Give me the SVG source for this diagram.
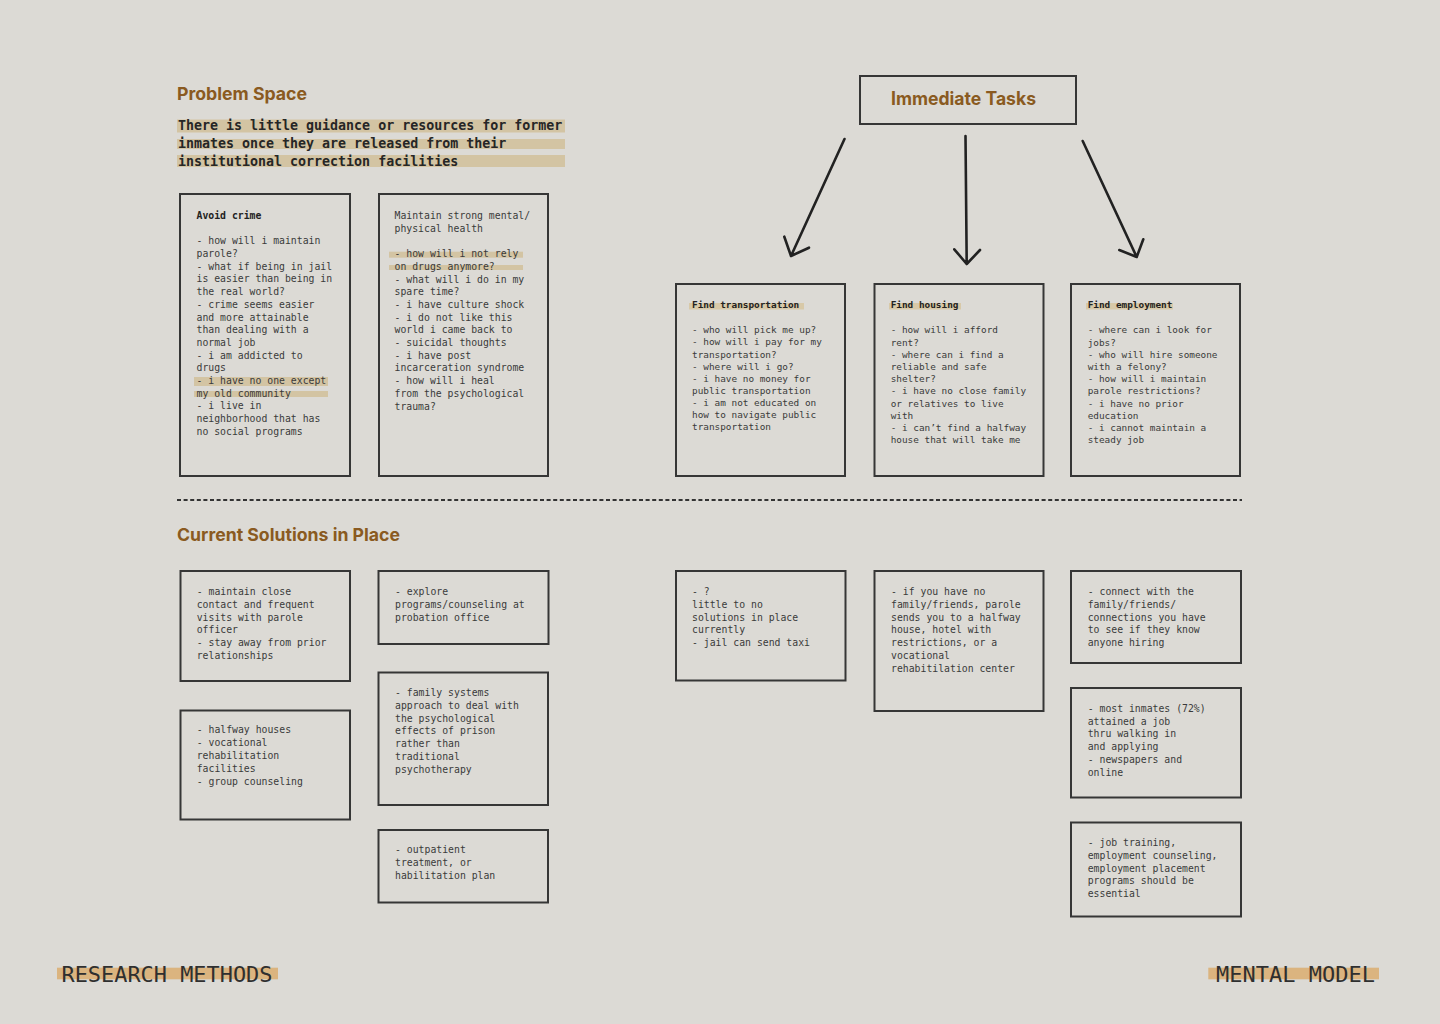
<svg xmlns="http://www.w3.org/2000/svg" width="1440" height="1024" viewBox="0 0 1440 1024">
<defs>
<style>
.bg{fill:#dcdad5}
.box{fill:none;stroke:#363636;stroke-width:2}
.hl{fill:#d3c4a3}
.hl2{fill:#d8c9a8}
.ft{fill:#dbb47f}
.h{font-family:Inter,"Noto Sans",sans-serif;font-weight:700;fill:#8a5a21}
.st{font-family:"DejaVu Sans Mono",monospace;font-weight:700;font-size:13.3px;fill:#262626}
.t{font-family:"DejaVu Sans Mono",monospace;font-size:9.8px;fill:#3a3a3a}
.ts{font-family:"DejaVu Sans Mono",monospace;font-size:9.4px;fill:#3a3a3a}
.b{font-weight:700;fill:#222}
.foot{font-family:"DejaVu Sans Mono",monospace;font-size:21px;fill:#2f2f2f}
.arrow{fill:none;stroke:#222;stroke-width:2.6;stroke-linecap:round;stroke-linejoin:round}
.dash{stroke:#333;stroke-width:2;stroke-dasharray:4 2.6}
</style>
</defs>
<rect class="bg" x="0" y="0" width="1440" height="1024"/>

<g id="problem-space">
<text class="h" x="177" y="100" font-size="17.5" textLength="130" lengthAdjust="spacingAndGlyphs">Problem Space</text>
<rect class="hl" x="177" y="119.5" width="388" height="13"/>
<rect class="hl" x="177" y="139" width="388" height="10"/>
<rect class="hl" x="177" y="155" width="388" height="12"/>
<text class="st" x="178" y="130">There is little guidance or resources for former</text>
<text class="st" x="178" y="148.3">inmates once they are released from their</text>
<text class="st" x="178" y="165.7">institutional correction facilities</text>
</g>

<g id="avoid-crime">
<rect class="box" x="180" y="194" width="170" height="282"/>
<rect class="hl" x="194" y="377" width="134" height="9"/>
<rect class="hl" x="194" y="391" width="134" height="6"/>
<text class="t">
<tspan class="b" x="196.5" y="219">Avoid crime</tspan>
<tspan x="196.5" y="244.3">- how will i maintain</tspan>
<tspan x="196.5" y="257">parole?</tspan>
<tspan x="196.5" y="269.7">- what if being in jail</tspan>
<tspan x="196.5" y="282.4">is easier than being in</tspan>
<tspan x="196.5" y="295.1">the real world?</tspan>
<tspan x="196.5" y="307.8">- crime seems easier</tspan>
<tspan x="196.5" y="320.5">and more attainable</tspan>
<tspan x="196.5" y="333.2">than dealing with a</tspan>
<tspan x="196.5" y="345.9">normal job</tspan>
<tspan x="196.5" y="358.6">- i am addicted to</tspan>
<tspan x="196.5" y="371.3">drugs</tspan>
<tspan x="196.5" y="384">- i have no one except</tspan>
<tspan x="196.5" y="396.7">my old community</tspan>
<tspan x="196.5" y="409.4">- i live in</tspan>
<tspan x="196.5" y="422.1">neighborhood that has</tspan>
<tspan x="196.5" y="434.8">no social programs</tspan>
</text>
</g>

<g id="mental-health">
<rect class="box" x="379" y="194" width="169" height="282"/>
<rect class="hl" x="389" y="251.7" width="134" height="6"/>
<rect class="hl" x="389" y="265" width="134" height="5"/>
<text class="t">
<tspan x="394.5" y="219">Maintain strong mental/</tspan>
<tspan x="394.5" y="231.7">physical health</tspan>
<tspan x="394.5" y="257.1">- how will i not rely</tspan>
<tspan x="394.5" y="269.8">on drugs anymore?</tspan>
<tspan x="394.5" y="282.5">- what will i do in my</tspan>
<tspan x="394.5" y="295.2">spare time?</tspan>
<tspan x="394.5" y="307.9">- i have culture shock</tspan>
<tspan x="394.5" y="320.6">- i do not like this</tspan>
<tspan x="394.5" y="333.3">world i came back to</tspan>
<tspan x="394.5" y="346">- suicidal thoughts</tspan>
<tspan x="394.5" y="358.7">- i have post</tspan>
<tspan x="394.5" y="371.4">incarceration syndrome</tspan>
<tspan x="394.5" y="384.1">- how will i heal</tspan>
<tspan x="394.5" y="396.8">from the psychological</tspan>
<tspan x="394.5" y="409.5">trauma?</tspan>
</text>
</g>

<g id="immediate-tasks">
<rect class="box" x="860" y="76" width="216" height="48"/>
<text class="h" x="891" y="105" font-size="18.5" textLength="145" lengthAdjust="spacingAndGlyphs">Immediate Tasks</text>
</g>

<g id="find-transportation">
<rect class="box" x="676" y="284" width="169" height="192"/>
<rect class="hl2" x="689" y="303" width="115" height="6.5"/>
<text class="ts">
<tspan class="b" x="692" y="308.3">Find transportation</tspan>
<tspan x="692" y="333.3">- who will pick me up?</tspan>
<tspan x="692" y="345.4">- how will i pay for my</tspan>
<tspan x="692" y="357.5">transportation?</tspan>
<tspan x="692" y="369.6">- where will i go?</tspan>
<tspan x="692" y="381.7">- i have no money for</tspan>
<tspan x="692" y="393.8">public transportation</tspan>
<tspan x="692" y="405.9">- i am not educated on</tspan>
<tspan x="692" y="418">how to navigate public</tspan>
<tspan x="692" y="430.1">transportation</tspan>
</text>
</g>

<g id="find-housing">
<rect class="box" x="874.5" y="284" width="169" height="192"/>
<rect class="hl2" x="889" y="303" width="72" height="6.5"/>
<text class="ts">
<tspan class="b" x="890.7" y="308.3">Find housing</tspan>
<tspan x="890.7" y="333.3">- how will i afford</tspan>
<tspan x="890.7" y="345.5">rent?</tspan>
<tspan x="890.7" y="357.7">- where can i find a</tspan>
<tspan x="890.7" y="369.9">reliable and safe</tspan>
<tspan x="890.7" y="382.1">shelter?</tspan>
<tspan x="890.7" y="394.3">- i have no close family</tspan>
<tspan x="890.7" y="406.5">or relatives to live</tspan>
<tspan x="890.7" y="418.7">with</tspan>
<tspan x="890.7" y="430.9">- i can’t find a halfway</tspan>
<tspan x="890.7" y="443.1">house that will take me</tspan>
</text>
</g>

<g id="find-employment">
<rect class="box" x="1071" y="284" width="169" height="192"/>
<rect class="hl2" x="1086" y="303" width="87" height="6.5"/>
<text class="ts">
<tspan class="b" x="1087.7" y="308.3">Find employment</tspan>
<tspan x="1087.7" y="333.3">- where can i look for</tspan>
<tspan x="1087.7" y="345.5">jobs?</tspan>
<tspan x="1087.7" y="357.7">- who will hire someone</tspan>
<tspan x="1087.7" y="369.9">with a felony?</tspan>
<tspan x="1087.7" y="382.1">- how will i maintain</tspan>
<tspan x="1087.7" y="394.3">parole restrictions?</tspan>
<tspan x="1087.7" y="406.5">- i have no prior</tspan>
<tspan x="1087.7" y="418.7">education</tspan>
<tspan x="1087.7" y="430.9">- i cannot maintain a</tspan>
<tspan x="1087.7" y="443.1">steady job</tspan>
</text>
</g>

<g id="connectors">
<path class="arrow" d="M844.5,139 L791,256 M784.3,236.7 L791,256 L809,247.7"/>
<path class="arrow" d="M965.5,136 L966.7,264 M954.3,249.3 L966.7,264 L980,250"/>
<path class="arrow" d="M1082.7,141 L1136.7,257 M1119.3,250 L1136.7,257 L1143.3,239.3"/>
</g>

<line class="dash" x1="177" y1="500" x2="1242" y2="500"/>

<g id="current-solutions">
<text class="h" x="177" y="541" font-size="17.5" textLength="223" lengthAdjust="spacingAndGlyphs">Current Solutions in Place</text>
</g>

<g id="sol-parole">
<rect class="box" x="180.5" y="571" width="169.5" height="110"/>
<text class="t">
<tspan x="196.7" y="595">- maintain close</tspan>
<tspan x="196.7" y="607.8">contact and frequent</tspan>
<tspan x="196.7" y="620.6">visits with parole</tspan>
<tspan x="196.7" y="633.4">officer</tspan>
<tspan x="196.7" y="646.2">- stay away from prior</tspan>
<tspan x="196.7" y="659">relationships</tspan>
</text>
</g>

<g id="sol-halfway">
<rect class="box" x="180.5" y="710.5" width="169.5" height="109"/>
<text class="t">
<tspan x="196.7" y="733.3">- halfway houses</tspan>
<tspan x="196.7" y="746.1">- vocational</tspan>
<tspan x="196.7" y="758.9">rehabilitation</tspan>
<tspan x="196.7" y="771.7">facilities</tspan>
<tspan x="196.7" y="784.5">- group counseling</tspan>
</text>
</g>

<g id="sol-probation">
<rect class="box" x="378.5" y="571" width="170" height="73"/>
<text class="t">
<tspan x="395" y="595">- explore</tspan>
<tspan x="395" y="607.8">programs/counseling at</tspan>
<tspan x="395" y="620.6">probation office</tspan>
</text>
</g>

<g id="sol-family-systems">
<rect class="box" x="378.5" y="672.5" width="169.5" height="132.5"/>
<text class="t">
<tspan x="395" y="696">- family systems</tspan>
<tspan x="395" y="708.8">approach to deal with</tspan>
<tspan x="395" y="721.6">the psychological</tspan>
<tspan x="395" y="734.4">effects of prison</tspan>
<tspan x="395" y="747.2">rather than</tspan>
<tspan x="395" y="760">traditional</tspan>
<tspan x="395" y="772.8">psychotherapy</tspan>
</text>
</g>

<g id="sol-outpatient">
<rect class="box" x="378.5" y="830" width="169.5" height="72.5"/>
<text class="t">
<tspan x="395" y="853.3">- outpatient</tspan>
<tspan x="395" y="866.1">treatment, or</tspan>
<tspan x="395" y="878.9">habilitation plan</tspan>
</text>
</g>

<g id="sol-transport">
<rect class="box" x="676" y="571" width="169.5" height="109.5"/>
<text class="t">
<tspan x="692" y="595">- ?</tspan>
<tspan x="692" y="607.8">little to no</tspan>
<tspan x="692" y="620.6">solutions in place</tspan>
<tspan x="692" y="633.4">currently</tspan>
<tspan x="692" y="646.2">- jail can send taxi</tspan>
</text>
</g>

<g id="sol-housing">
<rect class="box" x="874.5" y="571" width="169" height="140"/>
<text class="t">
<tspan x="891" y="595">- if you have no</tspan>
<tspan x="891" y="607.8">family/friends, parole</tspan>
<tspan x="891" y="620.6">sends you to a halfway</tspan>
<tspan x="891" y="633.4">house, hotel with</tspan>
<tspan x="891" y="646.2">restrictions, or a</tspan>
<tspan x="891" y="659">vocational</tspan>
<tspan x="891" y="671.8">rehabitilation center</tspan>
</text>
</g>

<g id="sol-connections">
<rect class="box" x="1071" y="571" width="170" height="92"/>
<text class="t">
<tspan x="1087.7" y="595">- connect with the</tspan>
<tspan x="1087.7" y="607.8">family/friends/</tspan>
<tspan x="1087.7" y="620.6">connections you have</tspan>
<tspan x="1087.7" y="633.4">to see if they know</tspan>
<tspan x="1087.7" y="646.2">anyone hiring</tspan>
</text>
</g>

<g id="sol-walking-in">
<rect class="box" x="1071" y="688" width="170" height="109.5"/>
<text class="t">
<tspan x="1087.7" y="711.7">- most inmates (72%)</tspan>
<tspan x="1087.7" y="724.5">attained a job</tspan>
<tspan x="1087.7" y="737.3">thru walking in</tspan>
<tspan x="1087.7" y="750.1">and applying</tspan>
<tspan x="1087.7" y="762.9">- newspapers and</tspan>
<tspan x="1087.7" y="775.7">online</tspan>
</text>
</g>

<g id="sol-job-training">
<rect class="box" x="1071" y="822.5" width="170" height="94"/>
<text class="t">
<tspan x="1087.7" y="846">- job training,</tspan>
<tspan x="1087.7" y="858.8">employment counseling,</tspan>
<tspan x="1087.7" y="871.6">employment placement</tspan>
<tspan x="1087.7" y="884.4">programs should be</tspan>
<tspan x="1087.7" y="897.2">essential</tspan>
</text>
</g>

<g id="footer-left">
<rect class="ft" x="57" y="967.7" width="221" height="11.6"/>
<text class="foot" x="61.5" y="981.7" textLength="211" lengthAdjust="spacingAndGlyphs">RESEARCH METHODS</text>
</g>
<g id="footer-right">
<rect class="ft" x="1208.3" y="967.7" width="170.7" height="11.6"/>
<text class="foot" x="1216" y="981.7" textLength="159" lengthAdjust="spacingAndGlyphs">MENTAL MODEL</text>
</g>
</svg>
